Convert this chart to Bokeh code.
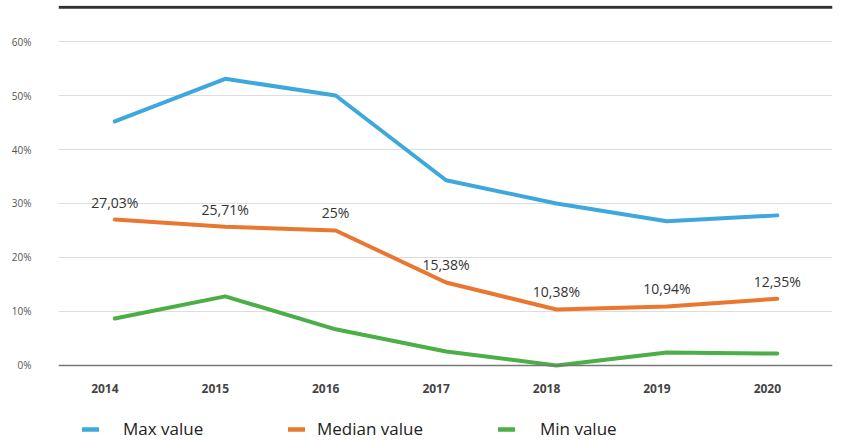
from bokeh.plotting import figure
from bokeh.models import (ColumnDataSource, FixedTicker, PrintfTickFormatter, Span,
                          Legend, LegendItem, Range1d, LabelSet, LinearAxis)
from bokeh.core.properties import value
from bokeh.layouts import column
from bokeh.embed import file_html
from bokeh.resources import INLINE

years = [2014, 2015, 2016, 2017, 2018, 2019, 2020]
max_values = [45.2, 53.1, 50.0, 34.3, 30.0, 26.7, 27.8]
median_values = [27.03, 25.71, 25.0, 15.38, 10.38, 10.94, 12.35]
min_values = [8.7, 12.8, 6.7, 2.6, 0.0, 2.4, 2.2]
median_labels = ["27,03%", "25,71%", "25%", "15,38%", "10,38%", "10,94%", "12,35%"]
y_ticks = [0, 10, 20, 30, 40, 50, 60]
series_names = ["Max value", "Median value", "Min value"]

FONT = "Open Sans"
BLUE = "#3ea8dd"
ORANGE = "#ea772f"
GREEN = "#4cae47"
COLORS = [BLUE, ORANGE, GREEN]

W = 844
X0, X1 = 2013.49, 2020.50
Y0, Y1 = -0.93, 66.67
RULE_AT = 66.35          # dark rule along the top edge of the chart
LABEL_SHIFT = 0.09       # tick labels sit slightly left of the data points

# ---- main chart ----
p = figure(width=W, height=404, toolbar_location=None, output_backend="svg",
           x_range=Range1d(X0, X1), y_range=Range1d(Y0, Y1),
           min_border_left=58, min_border_right=12, min_border_top=5,
           min_border_bottom=34, outline_line_color=None, x_axis_location=None)

p.extra_x_ranges = {"labels": Range1d(X0 + LABEL_SHIFT, X1 + LABEL_SHIFT)}
xaxis = LinearAxis(x_range_name="labels", ticker=FixedTicker(ticks=years))
xaxis.axis_line_color = None
xaxis.major_tick_line_color = None
xaxis.minor_tick_line_color = None
xaxis.major_label_text_font = FONT
xaxis.major_label_text_font_size = "12px"
xaxis.major_label_text_color = "#444444"
xaxis.major_label_text_font_style = "bold"
xaxis.major_label_standoff = 7
p.add_layout(xaxis, "below")

p.yaxis.ticker = FixedTicker(ticks=y_ticks)
p.yaxis.formatter = PrintfTickFormatter(format="%d%%")
p.yaxis.axis_line_color = None
p.yaxis.major_tick_line_color = None
p.yaxis.minor_tick_line_color = None
p.yaxis.major_label_text_font = FONT
p.yaxis.major_label_text_font_size = "10px"
p.yaxis.major_label_text_color = "#555555"
p.yaxis.major_label_standoff = 21

p.xgrid.visible = False
p.ygrid.ticker = FixedTicker(ticks=y_ticks[1:])
p.ygrid.grid_line_color = "#bbbbbb"
p.ygrid.grid_line_dash = "1 1"
p.ygrid.grid_line_width = 1

p.add_layout(Span(location=0, dimension="width", line_color="#777777", line_width=1.5))
p.add_layout(Span(location=RULE_AT, dimension="width", line_color="#333333", line_width=3))

src = ColumnDataSource(dict(x=years, mx=max_values, md=median_values, mn=min_values,
                            lbl=median_labels))

for col, c in zip(["mx", "md", "mn"], COLORS):
    p.line("x", col, source=src, line_color=c, line_width=4,
           line_join="round", line_cap="round")

labels = LabelSet(x="x", y="md", text="lbl", source=src, y_offset=8,
                  text_align="center", text_baseline="bottom",
                  text_font=value(FONT), text_font_size="14px", text_color="#333333")
p.add_layout(labels)

# ---- legend strip (its lines lie outside the strip's view; only the keys show) ----
leg = figure(width=W, height=36, toolbar_location=None, output_backend="svg",
             min_border=0, x_axis_location=None, y_axis_location=None,
             x_range=Range1d(0, 1), y_range=Range1d(0, 1),
             outline_line_color=None)
leg.grid.visible = False

legend_x = [24, 230, 440]
standoffs = [24, 12, 25]
for name, c, col, lx, so in zip(series_names, COLORS, ["mx", "md", "mn"], legend_x, standoffs):
    r = leg.line("x", col, source=src, line_color=c, line_width=4.5, line_cap="round")
    lg = Legend(items=[LegendItem(label=name, renderers=[r])],
                location=(lx, 0), orientation="horizontal",
                label_text_font=FONT, label_text_font_size="17px",
                label_text_color="#222222", glyph_width=17, label_standoff=so,
                padding=0, margin=0, border_line_color=None,
                background_fill_alpha=0)
    leg.add_layout(lg)

layout = column(p, leg, spacing=0)
open("out.html", "w").write(file_html(layout, INLINE))
